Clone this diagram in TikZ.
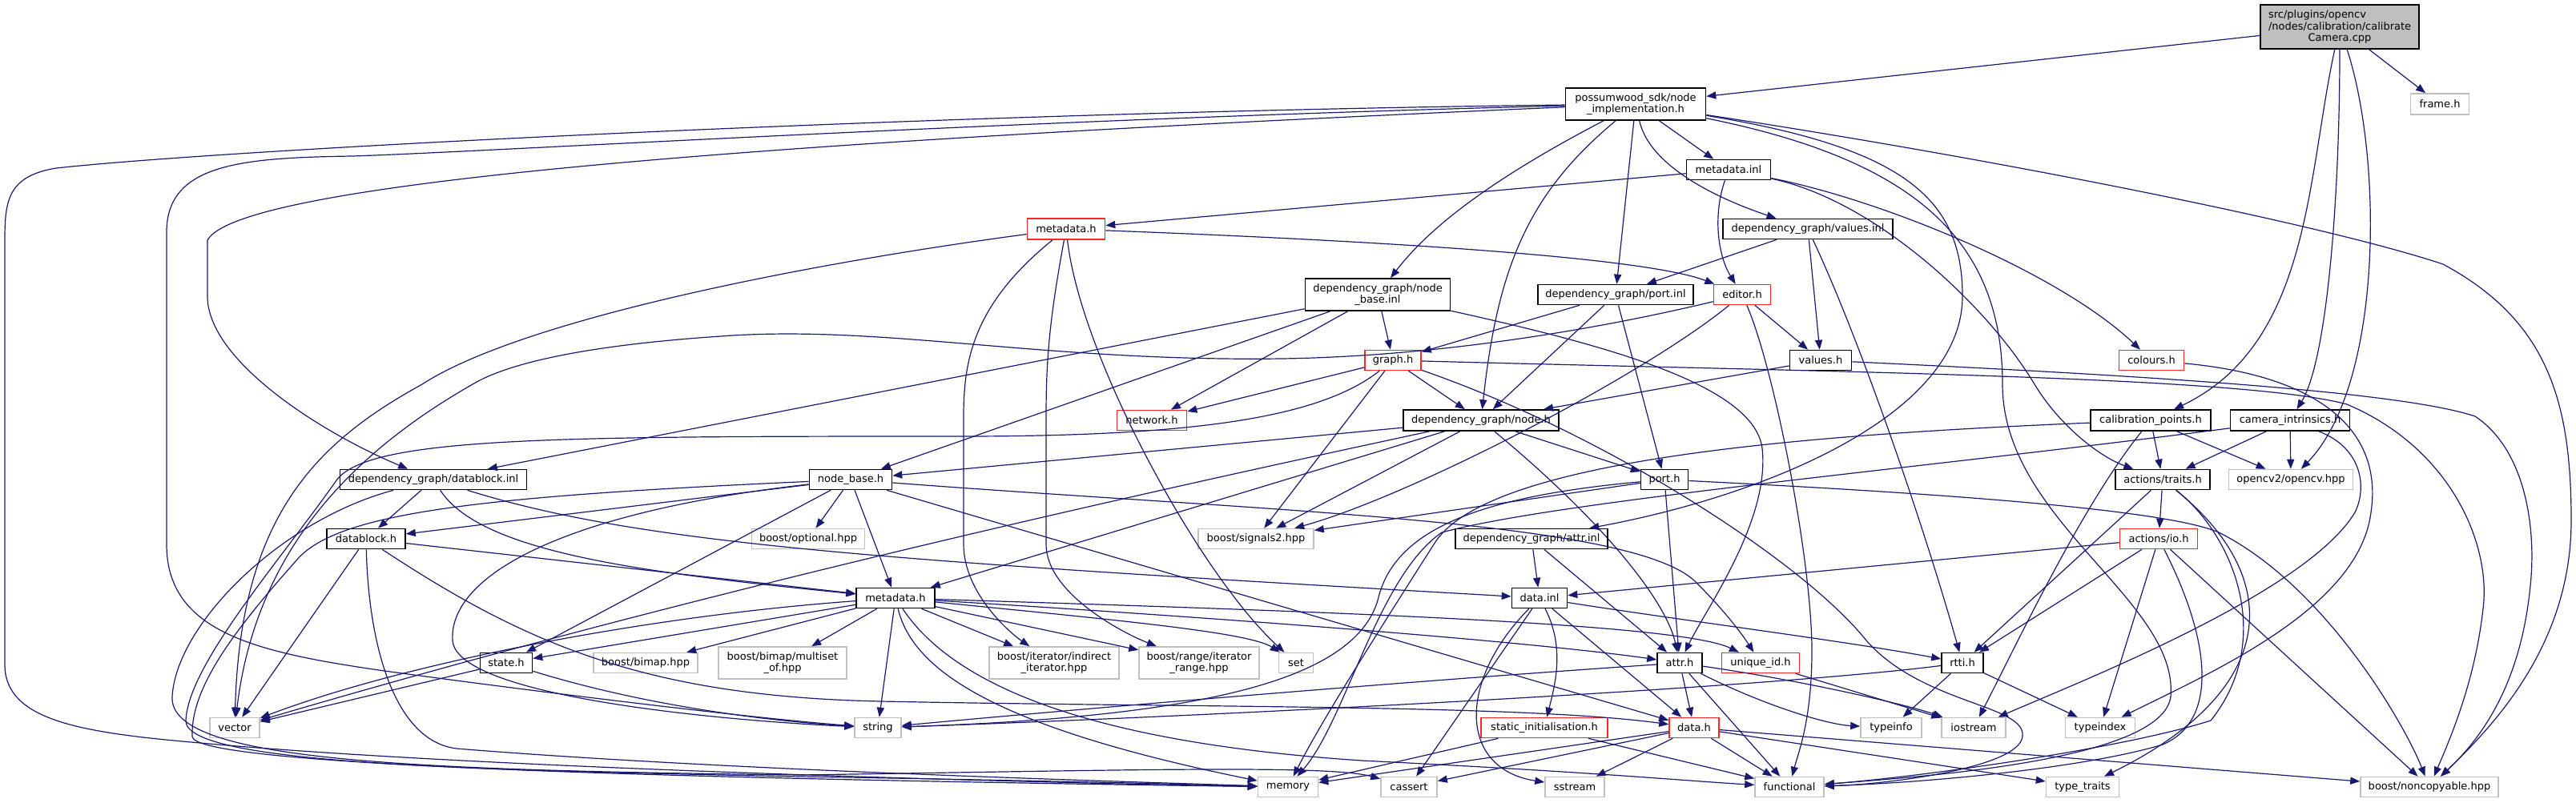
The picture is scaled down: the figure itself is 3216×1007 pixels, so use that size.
\documentclass[tikz,border=0pt]{standalone}
\usepackage{fontspec}
\setmainfont{DejaVu Sans}
\usetikzlibrary{arrows.meta}
\definecolor{linkblue}{HTML}{191970}
\definecolor{grey75}{HTML}{BFBFBF}
\definecolor{cutred}{HTML}{FF2626}
\tikzset{
  box/.style={draw,line width=0.8pt,fill=white,inner sep=0pt,minimum height=12.5pt,align=center},
  doc/.style={box,draw=black},
  cut/.style={box,draw=cutred},
  sys/.style={box,draw=grey75},
  inc/.style={draw=linkblue,line width=0.6pt,-{Triangle[length=6pt,width=4.6pt]}}
}
\begin{document}
\begin{tikzpicture}[x=0.5pt,y=-0.5pt,font=\fontsize{6.5}{7.25}\selectfont]
  \useasboundingbox (0,0) rectangle (3216,1007);
  % files
  \node[doc,fill=grey75,minimum width=99pt,minimum height=27.5pt,text width=89pt,align=left] (root) at (2921,33.5) {src/plugins/opencv\\/nodes/calibration/calibrate\\\makebox[89pt]{Camera.cpp}};
  \node[sys,minimum width=36.5pt,minimum height=13pt] (frame) at (3046,130) {frame.h};
  \node[doc,minimum width=87.5pt,minimum height=20pt] (pw) at (2042,130) {possumwood\_sdk/node\\\_implementation.h};
  \node[doc,minimum width=52.5pt] (mdinl) at (2158,212) {metadata.inl};
  \node[cut,minimum width=48.5pt,minimum height=13pt] (mdh) at (1331,286) {metadata.h};
  \node[doc,minimum width=106pt] (valinl) at (2257,286) {dependency\_graph/values.inl};
  \node[doc,minimum width=90.5pt,minimum height=20pt] (nbinl) at (1720,368) {dependency\_graph/node\\\_base.inl};
  \node[doc,minimum width=97pt] (portinl) at (2017,368) {dependency\_graph/port.inl};
  \node[cut,minimum width=35.5pt] (editor) at (2175,368) {editor.h};
  \node[cut,minimum width=35pt] (graph) at (1739,450) {graph.h};
  \node[doc,minimum width=38.5pt] (valh) at (2273,450) {values.h};
  \node[cut,minimum width=40.5pt] (colours) at (2686,450) {colours.h};
  \node[cut,minimum width=43.5pt] (network) at (1438,525) {network.h};
  \node[doc,minimum width=97pt,minimum height=13pt] (nodeh) at (1849,525) {dependency\_graph/node.h};
  \node[doc,minimum width=75pt,minimum height=13pt] (calpts) at (2685,525) {calibration\_points.h};
  \node[doc,minimum width=74.5pt,minimum height=13pt] (camint) at (2859,525) {camera\_intrinsics.h};
  \node[doc,minimum width=116.5pt] (dbinl) at (541,599) {dependency\_graph/datablock.inl};
  \node[doc,minimum width=51.5pt] (nbh) at (1062,599) {node\_base.h};
  \node[doc,minimum width=29.5pt] (porth) at (2078,599) {port.h};
  \node[doc,minimum width=59pt] (traits) at (2700,599) {actions/traits.h};
  \node[sys,minimum width=77.5pt] (opencv) at (2860,599) {opencv2/opencv.hpp};
  \node[doc,minimum width=49pt] (dbh) at (457,673) {datablock.h};
  \node[sys,minimum width=70.5pt] (optional) at (1009,673) {boost/optional.hpp};
  \node[sys,minimum width=72pt] (signals) at (1568,673) {boost/signals2.hpp};
  \node[doc,minimum width=95pt] (attrinl) at (1912,673) {dependency\_graph/attr.inl};
  \node[cut,minimum width=48.5pt] (io) at (2695,673) {actions/io.h};
  \node[doc,minimum width=49pt] (mdh2) at (1118,747) {metadata.h};
  \node[doc,minimum width=34.5pt] (datainl) at (1922,747) {data.inl};
  \node[doc,minimum width=32.5pt] (state) at (632,828) {state.h};
  \node[sys,minimum width=65pt] (bimap) at (806,828) {boost/bimap.hpp};
  \node[sys,minimum width=80pt,minimum height=20pt] (multiset) at (977,828) {boost/bimap/multiset\\\_of.hpp};
  \node[sys,minimum width=81pt,minimum height=20pt] (indirect) at (1316,828) {boost/iterator/indirect\\\_iterator.hpp};
  \node[sys,minimum width=75pt,minimum height=20pt] (range) at (1497,828) {boost/range/iterator\\\_range.hpp};
  \node[sys,minimum width=21.5pt] (set) at (1618,828) {set};
  \node[doc,minimum width=28pt] (attrh) at (2097,828) {attr.h};
  \node[cut,minimum width=48.5pt] (uid) at (2198,828) {unique\_id.h};
  \node[doc,minimum width=26pt] (rtti) at (2450,828) {rtti.h};
  \node[sys,minimum width=31pt] (vector) at (293,909) {vector};
  \node[sys,minimum width=29pt] (string) at (1096,909) {string};
  \node[cut,minimum width=79pt] (static) at (1928,909) {static\_initialisation.h};
  \node[cut,minimum width=31pt] (datah) at (2115,909) {data.h};
  \node[sys,minimum width=38pt] (typeinfo) at (2361,909) {typeinfo};
  \node[sys,minimum width=40pt] (iostream) at (2464,909) {iostream};
  \node[sys,minimum width=43.5pt] (typeindex) at (2622,909) {typeindex};
  \node[sys,minimum width=37.5pt] (memory) at (1608,983) {memory};
  \node[sys,minimum width=35pt] (cassert) at (1759,983) {cassert};
  \node[sys,minimum width=37pt] (sstream) at (1966,983) {sstream};
  \node[sys,minimum width=43pt] (functional) at (2234,983) {functional};
  \node[sys,minimum width=45.5pt] (typetraits) at (2600,983) {type\_traits};
  \node[sys,minimum width=86pt] (noncopy) at (3033,983) {boost/noncopyable.hpp};
  % includes
  \draw[inc] (root) -- (pw);
  \draw[inc] (root) -- (frame);
  \draw[inc] (root) .. controls (2880,220) and (2885,430) .. (calpts);
  \draw[inc] (root) .. controls (2921,250) and (2905,450) .. (camint);
  \draw[inc] (root) .. controls (2975,200) and (2975,480) .. (opencv);
  \draw[inc] (pw) .. controls (1200,140) and (300,185) .. (70,210) .. controls (10,220) and (6,250) .. (6,300) -- (6,830) .. controls (6,900) and (100,915) .. (250,928) .. controls (600,960) and (1300,978) .. (memory);
  \draw[inc] (pw) .. controls (1300,148) and (600,190) .. (440,195) .. controls (300,197) and (208,205) .. (208,290) -- (208,680) .. controls (208,790) and (320,815) .. (480,838) .. controls (700,868) and (950,898) .. (string);
  \draw[inc] (pw) .. controls (1000,175) and (300,225) .. (259,300) -- (259,370) .. controls (259,450) and (400,540) .. (dbinl);
  \draw[inc] (pw) .. controls (1850,230) and (1780,290) .. (nbinl);
  \draw[inc] (pw) .. controls (1910,240) and (1870,330) .. (nodeh);
  \draw[inc] (pw) -- (portinl);
  \draw[inc] (pw) .. controls (2060,210) and (2150,250) .. (valinl);
  \draw[inc] (pw) -- (mdinl);
  \draw[inc] (pw) .. controls (2380,185) and (2450,250) .. (2450,370) .. controls (2450,520) and (2200,620) .. (attrinl);
  \draw[inc] (pw) .. controls (2390,200) and (2500,300) .. (2500,480) .. controls (2500,650) and (2720,750) .. (2710,870) .. controls (2700,950) and (2400,970) .. (functional);
  \draw[inc] (pw) .. controls (2500,200) and (2900,280) .. (3050,330) .. controls (3180,400) and (3210,500) .. (3210,650) .. controls (3210,800) and (3120,900) .. (noncopy);
  \draw[inc] (mdinl) -- (mdh);
  \draw[inc] (mdinl) .. controls (2138,270) and (2145,320) .. (editor);
  \draw[inc] (mdinl) .. controls (2350,250) and (2570,340) .. (colours);
  \draw[inc] (mdinl) .. controls (2340,250) and (2480,380) .. (2540,480) .. controls (2570,530) and (2620,570) .. (traits);
  \draw[inc] (valinl) -- (portinl);
  \draw[inc] (valinl) -- (valh);
  \draw[inc] (valinl) .. controls (2320,420) and (2400,650) .. (rtti);
  \draw[inc] (mdh) .. controls (1000,330) and (650,400) .. (527,480) .. controls (400,550) and (300,640) .. (vector);
  \draw[inc] (mdh) .. controls (1700,300) and (2050,320) .. (editor);
  \draw[inc] (mdh) .. controls (1215,380) and (1203,450) .. (1203,520) -- (1203,680) .. controls (1203,740) and (1260,790) .. (indirect);
  \draw[inc] (mdh) .. controls (1310,400) and (1306,450) .. (1306,520) -- (1306,680) .. controls (1306,740) and (1400,790) .. (range);
  \draw[inc] (mdh) .. controls (1350,450) and (1500,720) .. (set);
  \draw[inc] (editor) .. controls (2000,410) and (1800,445) .. (1600,448) .. controls (1300,452) and (1100,405) .. (900,420) .. controls (750,430) and (640,450) .. (590,480) .. controls (450,560) and (320,680) .. (vector);
  \draw[inc] (editor) -- (valh);
  \draw[inc] (editor) .. controls (2050,470) and (1760,620) .. (signals);
  \draw[inc] (editor) .. controls (2215,460) and (2262,700) .. (2262,813) .. controls (2262,900) and (2245,940) .. (functional);
  \draw[inc] (valh) -- (nodeh);
  \draw[inc] (valh) .. controls (2700,470) and (3000,490) .. (3090,520) .. controls (3150,560) and (3165,650) .. (3160,720) .. controls (3150,850) and (3100,920) .. (noncopy);
  \draw[inc] (graph) -- (network);
  \draw[inc] (graph) .. controls (1650,520) and (1500,545) .. (1200,545) .. controls (700,545) and (460,545) .. (420,600) .. controls (350,700) and (235,830) .. (232,900) .. controls (230,955) and (600,962) .. (1000,970) .. controls (1300,975) and (1500,980) .. (memory);
  \draw[inc] (graph) -- (signals);
  \draw[inc] (graph) -- (nodeh);
  \draw[inc] (graph) .. controls (2000,540) and (2250,700) .. (2330,800) .. controls (2400,880) and (2530,880) .. (2525,920) .. controls (2520,960) and (2350,980) .. (functional);
  \draw[inc] (graph) .. controls (2300,465) and (2800,470) .. (2930,505) .. controls (3060,560) and (3110,680) .. (3100,760) .. controls (3090,850) and (3060,920) .. (noncopy);
  \draw[inc] (nbinl) -- (dbinl);
  \draw[inc] (nbinl) -- (nbh);
  \draw[inc] (nbinl) -- (network);
  \draw[inc] (nbinl) -- (graph);
  \draw[inc] (nbinl) .. controls (2000,430) and (2190,480) .. (2200,560) .. controls (2210,650) and (2130,760) .. (attrh);
  \draw[inc] (portinl) -- (graph);
  \draw[inc] (portinl) -- (nodeh);
  \draw[inc] (portinl) -- (porth);
  \draw[inc] (nodeh) -- (nbh);
  \draw[inc] (nodeh) -- (mdh2);
  \draw[inc] (nodeh) -- (signals);
  \draw[inc] (nodeh) .. controls (2000,650) and (2080,750) .. (attrh);
  \draw[inc] (nodeh) -- (porth);
  \draw[inc] (nodeh) .. controls (1500,600) and (900,730) .. (vector);
  \draw[inc] (nbh) -- (dbh);
  \draw[inc] (nbh) -- (state);
  \draw[inc] (nbh) -- (optional);
  \draw[inc] (nbh) -- (mdh2);
  \draw[inc] (nbh) -- (datah);
  \draw[inc] (nbh) .. controls (1600,640) and (2050,650) .. (2120,730) .. controls (2160,770) and (2180,800) .. (uid);
  \draw[inc] (nbh) .. controls (700,640) and (560,720) .. (565,800) .. controls (570,870) and (900,900) .. (string);
  \draw[inc] (nbh) .. controls (600,620) and (420,640) .. (370,700) .. controls (290,790) and (238,860) .. (240,920) .. controls (242,955) and (800,972) .. (memory);
  \draw[inc] (dbinl) -- (dbh);
  \draw[inc] (dbinl) .. controls (600,690) and (800,715) .. (mdh2);
  \draw[inc] (dbinl) .. controls (800,680) and (1100,700) .. (datainl);
  \draw[inc] (dbinl) .. controls (350,650) and (220,780) .. (215,870) .. controls (210,950) and (500,962) .. (1000,968) .. controls (1400,962) and (1660,955) .. (cassert);
  \draw[inc] (dbh) -- (vector);
  \draw[inc] (dbh) -- (mdh2);
  \draw[inc] (dbh) .. controls (460,800) and (490,925) .. (570,935) .. controls (900,962) and (1400,976) .. (memory);
  \draw[inc] (dbh) .. controls (650,800) and (800,870) .. (1100,876) .. controls (1500,884) and (1900,880) .. (datah);
  \draw[inc] (state) -- (vector);
  \draw[inc] (state) .. controls (800,880) and (950,900) .. (string);
  \draw[inc] (mdh2) .. controls (800,770) and (500,830) .. (vector);
  \draw[inc] (mdh2) -- (state);
  \draw[inc] (mdh2) -- (bimap);
  \draw[inc] (mdh2) -- (multiset);
  \draw[inc] (mdh2) -- (indirect);
  \draw[inc] (mdh2) -- (range);
  \draw[inc] (mdh2) .. controls (1400,775) and (1560,790) .. (set);
  \draw[inc] (mdh2) -- (string);
  \draw[inc] (mdh2) .. controls (1140,840) and (1250,910) .. (memory);
  \draw[inc] (mdh2) .. controls (1200,870) and (1400,930) .. (1700,950) .. controls (2000,965) and (2100,975) .. (functional);
  \draw[inc] (mdh2) .. controls (1500,770) and (1900,800) .. (attrh);
  \draw[inc] (mdh2) .. controls (1700,765) and (2100,780) .. (uid);
  \draw[inc] (datainl) -- (cassert);
  \draw[inc] (datainl) .. controls (1820,850) and (1820,960) .. (sstream);
  \draw[inc] (datainl) .. controls (1955,810) and (1940,860) .. (static);
  \draw[inc] (datainl) -- (datah);
  \draw[inc] (datainl) .. controls (2100,775) and (2300,800) .. (rtti);
  \draw[inc] (attrinl) -- (datainl);
  \draw[inc] (attrinl) -- (attrh);
  \draw[inc] (attrh) .. controls (1700,855) and (1300,890) .. (string);
  \draw[inc] (attrh) -- (datah);
  \draw[inc] (attrh) -- (functional);
  \draw[inc] (attrh) .. controls (2200,880) and (2280,905) .. (typeinfo);
  \draw[inc] (attrh) .. controls (2250,850) and (2380,880) .. (iostream);
  \draw[inc] (rtti) .. controls (2200,860) and (1500,895) .. (string);
  \draw[inc] (rtti) -- (typeinfo);
  \draw[inc] (rtti) -- (typeindex);
  \draw[inc] (uid) -- (iostream);
  \draw[inc] (porth) .. controls (1850,620) and (1740,660) .. (1720,750) .. controls (1690,850) and (1500,895) .. (string);
  \draw[inc] (porth) -- (signals);
  \draw[inc] (porth) -- (attrh);
  \draw[inc] (porth) .. controls (2400,615) and (2700,635) .. (2770,665) .. controls (2900,730) and (3000,900) .. (noncopy);
  \draw[inc] (calpts) .. controls (2200,545) and (1850,580) .. (1790,680) .. controls (1720,790) and (1650,900) .. (memory);
  \draw[inc] (calpts) .. controls (2600,630) and (2520,800) .. (iostream);
  \draw[inc] (calpts) -- (traits);
  \draw[inc] (calpts) -- (opencv);
  \draw[inc] (camint) .. controls (2400,585) and (1950,625) .. (1800,665) .. controls (1720,720) and (1680,900) .. (memory);
  \draw[inc] (camint) -- (traits);
  \draw[inc] (camint) -- (opencv);
  \draw[inc] (camint) .. controls (2950,560) and (2955,610) .. (2940,640) .. controls (2880,740) and (2600,850) .. (iostream);
  \draw[inc] (colours) .. controls (2900,470) and (2975,540) .. (2960,640) .. controls (2945,760) and (2760,840) .. (typeindex);
  \draw[inc] (traits) -- (io);
  \draw[inc] (traits) -- (rtti);
  \draw[inc] (traits) .. controls (2790,670) and (2840,800) .. (2760,900) .. controls (2650,935) and (2400,970) .. (functional);
  \draw[inc] (traits) .. controls (2850,720) and (2850,860) .. (typetraits);
  \draw[inc] (io) -- (datainl);
  \draw[inc] (io) -- (rtti);
  \draw[inc] (io) -- (typeindex);
  \draw[inc] (io) .. controls (2760,800) and (2770,900) .. (2700,930) .. controls (2600,960) and (2400,978) .. (functional);
  \draw[inc] (io) -- (noncopy);
  \draw[inc] (static) -- (memory);
  \draw[inc] (static) -- (functional);
  \draw[inc] (datah) -- (memory);
  \draw[inc] (datah) -- (cassert);
  \draw[inc] (datah) -- (sstream);
  \draw[inc] (datah) -- (functional);
  \draw[inc] (datah) -- (typetraits);
  \draw[inc] (datah) -- (noncopy);
\end{tikzpicture}
\end{document}
